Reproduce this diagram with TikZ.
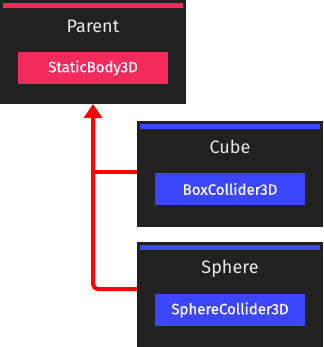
\documentclass[tikz,border=0pt]{standalone}
\usepackage{fontspec}
\setmainfont{Fira Sans}
\newfontfamily\compfont[FakeBold=0.7]{Fira Sans}
\usetikzlibrary{arrows.meta,calc}
\definecolor{darkbg}{HTML}{212121}
\definecolor{pinkc}{HTML}{F42A5C}
\definecolor{bluec}{HTML}{3C46FF}
\definecolor{redc}{HTML}{FF0000}
\definecolor{titlec}{HTML}{E8E8E8}
\tikzset{
  panel/.style={fill=darkbg, inner sep=0pt, minimum width=186pt, anchor=north west},
  strip/.style={fill=#1, inner sep=0pt, minimum width=180pt, minimum height=5pt},
  ttl/.style={text=titlec, font=\fontsize{18}{18}\selectfont, inner sep=0pt},
  comp/.style={fill=#1, text=white, inner sep=0pt, minimum width=150pt, minimum height=32pt, font=\compfont\fontsize{15}{15}\selectfont},
  link/.style={draw=redc, line width=4pt, rounded corners=5pt}
}
\begin{document}
\begin{tikzpicture}[x=1pt,y=-1pt]
\useasboundingbox (0,0) rectangle (323,347);
% Parent
\node[panel, minimum height=104pt] (parent) at (0,0) {};
\node[strip=pinkc] (pstrip) at (93,5.5) {};
\node[ttl] (ptitle) at (93,26) {Parent};
\node[comp=pinkc] (pbody) at (93,68) {StaticBody3D};
% Cube
\node[panel, minimum height=106pt] (cube) at (137,121) {};
\node[strip=bluec] (cstrip) at (230,126.5) {};
\node[ttl] (ctitle) at (230,147) {Cube};
\node[comp=bluec] (cbody) at (230,189) {BoxCollider3D};
% Sphere
\node[panel, minimum height=105pt] (sphere) at (137,242) {};
\node[strip=bluec] (sstrip) at (230,247.5) {};
\node[ttl] (stitle) at (230,269) {Sphere};
\node[comp=bluec] (sbody) at (230,310) {SphereCollider3D};
% connectors
\coordinate (sin) at ($(sphere.north west)+(0,47)$);
\coordinate (cin) at ($(cube.north west)+(0,51)$);
\coordinate (ptip) at (93,104);
\draw[link, -{Triangle[width=18pt,length=14pt]}] (sin) -| (ptip);
\draw[link] (cin) -- (cin -| ptip);
\end{tikzpicture}
\end{document}
